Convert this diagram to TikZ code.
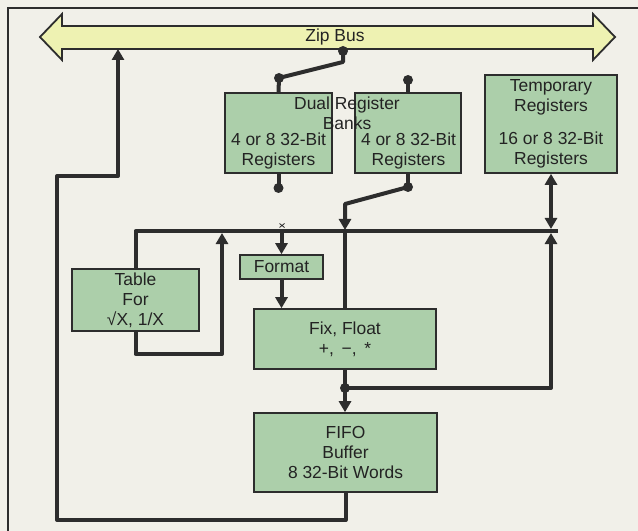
\documentclass[tikz,border=0pt]{standalone}
\usepackage{fontspec}
\setmainfont{Liberation Sans}
\usetikzlibrary{arrows.meta}
\definecolor{bgc}{RGB}{241,240,233}
\definecolor{boxc}{RGB}{172,207,170}
\definecolor{busc}{RGB}{238,242,178}
\definecolor{linec}{RGB}{45,45,45}
\definecolor{txtc}{RGB}{35,35,35}
\newcommand{\dfont}{\fontsize{17.5}{20}\selectfont}
\begin{document}
\begin{tikzpicture}[x=1bp,y=-1bp,
  box/.style={draw=linec,line width=1.6bp,fill=boxc,inner sep=0pt,align=center,font=\dfont,text=txtc},
  lbl/.style={inner sep=0pt,align=center,font=\dfont,text=txtc},
  conn/.style={draw=linec,line width=4bp,line join=round},
  tip/.style={-{Triangle[length=11bp,width=12bp]}},
  dtip/.style={{Triangle[length=11bp,width=12bp]}-{Triangle[length=11bp,width=12bp]}},
  dot/.style={circle,fill=linec,inner sep=0pt,minimum size=10bp}]
\useasboundingbox (0,0) rectangle (638,531);
\fill[bgc] (0,0) rectangle (638,531);
\draw[linec,line width=1.5bp] (8,540) -- (8,8) -- (645,8);
% Zip bus
\draw[linec,line width=1.8bp,fill=busc,line join=miter] (40,37) -- (62,14) -- (62,26) -- (593,26) -- (593,14) -- (615,37) -- (593,60) -- (593,49) -- (62,49) -- (62,60) -- cycle;
\node[lbl] (zip) at (335,37) {Zip Bus};
\coordinate (busA) at (343,49);
\coordinate (busB) at (118,49);
% boxes
\node[box,minimum width=107bp,minimum height=80bp] (bankL) at (278.5,133) {};
\node[box,minimum width=106bp,minimum height=80bp] (bankR) at (408,133) {};
\node[lbl] (dual) at (347,113) {Dual Register\\Banks};
\node[lbl] (bankLt) at (278.5,151) {4 or 8 32-Bit\\Registers};
\node[lbl] (bankRt) at (408.5,151) {4 or 8 32-Bit\\Registers};
\node[box,minimum width=132bp,minimum height=98bp] (temp) at (551,124) {Temporary\\Registers\\[13bp]16 or 8 32-Bit\\Registers};
\node[box,minimum width=127bp,minimum height=62bp] (table) at (135.5,300) {Table\\For\\√X, 1/X};
\node[box,minimum width=83bp,minimum height=24bp] (format) at (281.5,267) {Format};
\node[box,minimum width=182bp,minimum height=60bp] (fix) at (345,339) {Fix, Float\\+,\, −,\, *};
\node[box,minimum width=183bp,minimum height=79bp] (fifo) at (345.5,452.5) {FIFO\\Buffer\\8 32-Bit Words};
% bus to left bank
\node[dot] (d1) at (343,51) {};
\node[dot] (d2) at (279,78) {};
\draw[conn] (busA) -- (343,62) -- (d2.center) -- (bankL.north);
% right bank top stub
\node[dot] (d3) at (408,80) {};
\draw[conn] (bankR.north) -- (d3.center);
% left bank bottom stub
\node[dot] (d4) at (278.5,188) {};
\draw[conn] (bankL.south) -- (d4.center);
% right bank bottom to internal bus
\node[dot] (d5) at (408,187) {};
\draw[conn] (bankR.south) -- (d5.center);
\draw[conn,tip] (d5.center) -- (345,204) -- (345,230);
\draw[conn] (345,231) -- (fix.north);
% internal bus
\coordinate (ibL) at (135.5,231);
\coordinate (ibR) at (558,231);
\draw[conn] (table.north) -- (ibL) -- (ibR);
% table loop
\draw[conn,tip] (table.south) -- (135.5,354) -- (222,354) -- (222,233);
% format
\draw[conn,tip] (281.5,231) -- (format.north);
\draw[conn,tip] (format.south) -- (format.south |- fix.north);
\draw[linec,line width=0.8bp] (279.5,223.5) -- (284.5,227.5) (279.5,227.5) -- (284.5,223.5);
% temp registers
\draw[conn,dtip] (temp.south) -- (551,229);
% fix output
\node[dot] (d6) at (345,388) {};
\draw[conn,tip] (fix.south) -- (fix.south |- fifo.north);
\draw[conn,tip] (d6.center) -- (551,388) -- (551,233);
% fifo loop
\draw[conn,tip] (fifo.south) -- (345.5,520) -- (57,520) -- (57,176) -- (118,176) -- (busB);
\end{tikzpicture}
\end{document}
